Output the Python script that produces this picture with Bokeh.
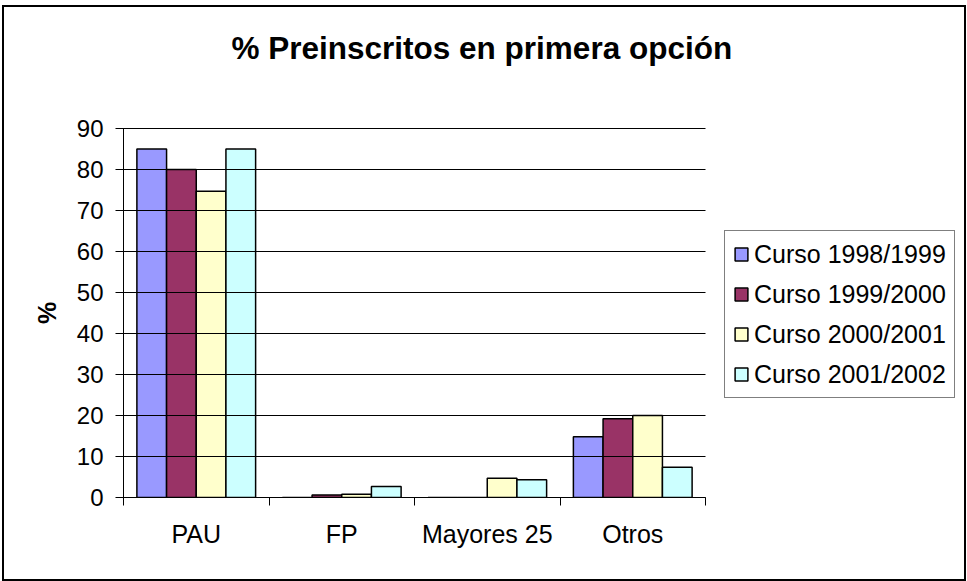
from bokeh.plotting import figure
from bokeh.models import (ColumnDataSource, Range1d, LinearAxis,
                          FixedTicker, Legend, LegendItem, Title)
from bokeh.transform import dodge
from bokeh.embed import file_html
from bokeh.resources import INLINE

# ---- data ----
categories = ["PAU", "FP", "Mayores 25", "Otros"]
curso_1998_1999 = [85.0, 0.0, 0.0, 14.8]
curso_1999_2000 = [80.0, 0.6, 0.0, 19.2]
curso_2000_2001 = [74.7, 0.8, 4.7, 20.0]
curso_2001_2002 = [85.0, 2.7, 4.3, 7.4]
series_names = ["Curso 1998/1999", "Curso 1999/2000", "Curso 2000/2001", "Curso 2001/2002"]
y_ticks = [0, 10, 20, 30, 40, 50, 60, 70, 80, 90]

colors = ["#9999FF", "#993366", "#FFFFCC", "#CCFFFF"]
FONT = "Liberation Sans"

n = len(categories)
centers = [i + 0.5 for i in range(n)]
edges = list(range(n + 1))

source = ColumnDataSource(data=dict(
    pos=centers,
    s1=curso_1998_1999,
    s2=curso_1999_2000,
    s3=curso_2000_2001,
    s4=curso_2001_2002,
))

# layout sizes (pixels)
W, H = 964, 576
border_left, border_top, border_bottom = 119, 121, 86
frame_w = W - border_left          # frame runs to the right edge (legend lives inside it)
plot_w = 582                       # width of the bar area
x_end = n * frame_w / plot_w

p = figure(
    width=W, height=H,
    x_range=Range1d(0, x_end),
    y_range=Range1d(0, 90),
    x_axis_location=None,
    output_backend="svg", toolbar_location=None,
    title="% Preinscritos en primera opción",
    min_border_left=border_left, min_border_right=0,
    min_border_top=border_top, min_border_bottom=border_bottom,
)
p.background_fill_color = "white"
p.border_fill_color = "white"
p.outline_line_color = None
p.styles = {"border": "2px solid black", "box-sizing": "border-box", "margin": "5px 0 0 2px"}

# spacer between the frame and the title
p.add_layout(Title(text=" ", text_font_size="1px", standoff=58), "above")

# title
p.title.align = "left"
p.title.vertical_align = "top"
p.title.offset = 108
p.title.text_font = FONT
p.title.text_font_size = "31.5px"
p.title.text_font_style = "bold"
p.title.text_color = "black"
p.title.standoff = 0

# y axis (inner ticks act as the horizontal grid lines over the bar area)
yax = p.yaxis[0]
yax.ticker = FixedTicker(ticks=y_ticks)
yax.major_tick_in = plot_w
yax.major_tick_out = 8
yax.major_tick_line_width = 1.2
yax.minor_tick_line_color = None
yax.axis_line_color = "black"
yax.major_tick_line_color = "black"
yax.major_label_text_font = FONT
yax.major_label_text_font_size = "24px"
yax.major_label_text_color = "black"
yax.major_label_standoff = 12
yax.axis_label = "%"
yax.axis_label_text_font = FONT
yax.axis_label_text_font_size = "25px"
yax.axis_label_text_font_style = "bold"
yax.axis_label_text_color = "black"
yax.axis_label_standoff = 13

p.xgrid.grid_line_color = None
p.ygrid.grid_line_color = None

# category-boundary ticks axis
edge_axis = LinearAxis(ticker=FixedTicker(ticks=edges), bounds=(0, n),
                       major_tick_in=0, major_tick_out=8,
                       minor_tick_line_color=None,
                       axis_line_color="black", major_tick_line_color="black",
                       major_label_overrides={e: " " for e in edges},
                       major_label_text_font_size="2px", major_label_standoff=0)
p.add_layout(edge_axis, "below")

# category label axis
cat_axis = LinearAxis(ticker=FixedTicker(ticks=centers),
                      major_label_overrides={c: lab for c, lab in zip(centers, categories)},
                      axis_line_color=None, major_tick_line_color=None,
                      minor_tick_line_color=None,
                      major_tick_out=0, major_tick_in=0,
                      major_label_text_font=FONT, major_label_text_font_size="25px",
                      major_label_text_color="black", major_label_standoff=9)
p.add_layout(cat_axis, "below")

# bars
bw = 0.204
offsets = [-1.5 * bw, -0.5 * bw, 0.5 * bw, 1.5 * bw]
items = []
for i, (col, name) in enumerate(zip(["s1", "s2", "s3", "s4"], series_names)):
    r = p.vbar(x=dodge("pos", offsets[i]), top=col, width=bw,
               source=source, fill_color=colors[i], line_color="black", line_width=1.5)
    items.append(LegendItem(label=name, renderers=[r]))

legend = Legend(items=items, location=(plot_w + 19, 99), margin=0, padding=8,
                spacing=10, glyph_width=16, glyph_height=16, label_height=30,
                label_standoff=5, label_text_font=FONT, label_text_font_size="25px",
                label_text_color="black", border_line_color="black", border_line_width=1.5,
                background_fill_color="white", background_fill_alpha=1)
p.add_layout(legend)

open("out.html", "w").write(file_html(p, INLINE))
